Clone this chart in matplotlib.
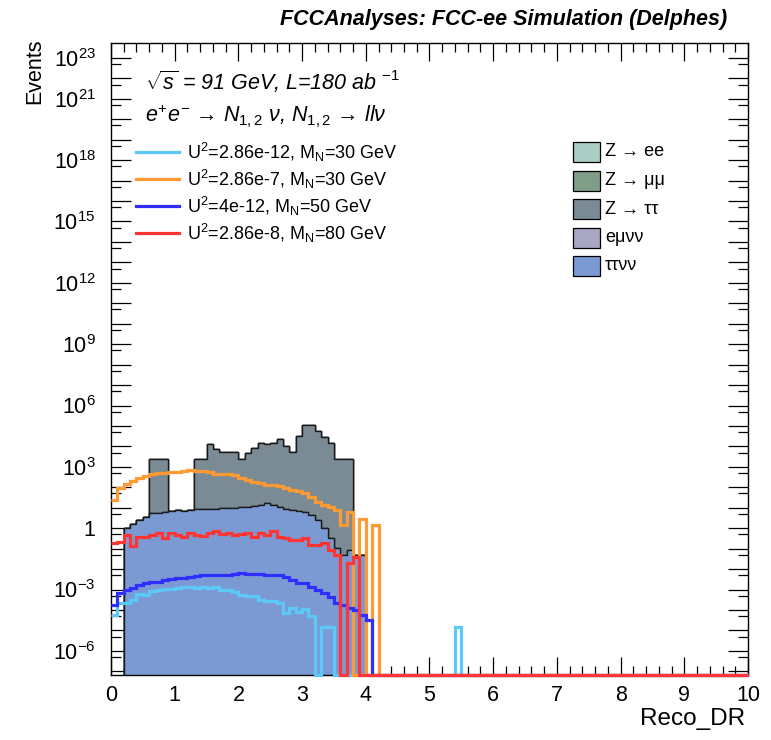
import numpy as np
import matplotlib
matplotlib.use("Agg")
import matplotlib.pyplot as plt
from matplotlib.lines import Line2D
from matplotlib.patches import Rectangle
from matplotlib.ticker import FixedLocator, FuncFormatter, MultipleLocator, NullFormatter

plt.rcParams['font.family'] = ['Liberation Sans', 'DejaVu Sans']
plt.rcParams['mathtext.fontset'] = 'custom'
plt.rcParams['mathtext.rm'] = 'Liberation Sans'
plt.rcParams['mathtext.it'] = 'Liberation Sans:italic'
plt.rcParams['mathtext.bf'] = 'Liberation Sans:bold'

# Reco_DR binning: 100 bins of 0.1
edges = np.linspace(0, 10, 101)

# background yields per bin (first bins, rest are empty)
tautaununu = [0, 0, 1.0, 1.6, 2.6, 3.7, 5.4, 5.4, 6.0, 7.2,
              7.9, 7.2, 7.9, 8.5, 8.5, 8.5, 8.5, 9.5, 9.5, 9.5,
              11.5, 11.5, 12.6, 14.0, 16.6, 14.0, 11.5, 8.9, 7.9, 6.6,
              6.0, 4.5, 2.5, 1.0, 0.32, 0.105, 0.049, 0.085, 0.049, 0.049]
z_tautau = [0, 0, 0, 0, 0, 0, 2450, 2450, 2450, 0,
            0, 0, 0, 2450, 2450, 12900, 7600, 5200, 5200, 5200,
            2450, 5000, 8300, 14500, 12900, 14800, 21900, 10500, 5200, 31600,
            115000, 115000, 53700, 30200, 14500, 2450, 2450, 2450]
z_ee = []
z_mumu = []
emununu = []

# signal yields per bin
sig_u2_286e12_m30 = [5.8e-5, 2.3e-4, 2.3e-4, 3.2e-4, 6.3e-4, 5.5e-4, 8.9e-4, 1.0e-3, 1.1e-3, 1.1e-3,
                     1.25e-3, 1.3e-3, 1.4e-3, 1.25e-3, 1.4e-3, 1.15e-3, 1.4e-3, 1.0e-3, 1.0e-3, 7.9e-4,
                     5.5e-4, 4.6e-4, 4.6e-4, 3.1e-4, 2.6e-4, 2.6e-4, 2.3e-4, 7.4e-5, 1.2e-4, 7.9e-5,
                     1.1e-4, 5.0e-5, 0, 1.4e-5, 1.4e-5, 0, 0, 0, 0, 0,
                     0, 0, 0, 0, 0, 0, 0, 0, 0, 0,
                     0, 0, 0, 0, 1.4e-5]
sig_u2_286e7_m30 = [25, 91, 148, 214, 282, 339, 437, 525, 525, 537,
                    589, 617, 708, 631, 631, 562, 457, 457, 457, 380,
                    282, 229, 191, 158, 132, 132, 110, 91, 71, 63,
                    50, 35, 20, 14, 11.5, 7.9, 1.45, 6.5, 0, 2.9,
                    0, 1.45]
sig_u2_4e12_m50 = [1.8e-4, 6.6e-4, 1.0e-3, 1.15e-3, 1.66e-3, 2.0e-3, 2.45e-3, 2.45e-3, 2.95e-3, 3.2e-3,
                   3.5e-3, 3.5e-3, 4.0e-3, 4.7e-3, 5.2e-3, 5.2e-3, 5.2e-3, 5.2e-3, 5.2e-3, 5.6e-3,
                   6.3e-3, 5.6e-3, 5.6e-3, 5.6e-3, 4.9e-3, 4.9e-3, 4.9e-3, 4.0e-3, 2.8e-3, 2.0e-3,
                   2.0e-3, 1.4e-3, 9.5e-4, 6.6e-4, 4.5e-4, 2.1e-4, 1.8e-4, 1.2e-4, 1.0e-4, 5.8e-5,
                   3.2e-5]
sig_u2_286e8_m80 = [0.19, 0.22, 0.47, 0.135, 0.39, 0.39, 0.47, 0.56, 0.32, 0.56,
                    0.47, 0.39, 0.56, 0.47, 0.42, 0.56, 0.69, 0.52, 0.56, 0.47,
                    0.52, 0.56, 0.39, 0.56, 0.47, 0.74, 0.39, 0.32, 0.27, 0.27,
                    0.35, 0.15, 0.15, 0.19, 0.087, 0.049, 0, 0.0195, 0.037]

sig_labels = [r'U$^{2}$=2.86e-12, M$_{\mathrm{N}}$=30 GeV',
              r'U$^{2}$=2.86e-7, M$_{\mathrm{N}}$=30 GeV',
              r'U$^{2}$=4e-12, M$_{\mathrm{N}}$=50 GeV',
              r'U$^{2}$=2.86e-8, M$_{\mathrm{N}}$=80 GeV']
sig_colors = ['#5bc8f7', '#ff9933', '#2e2eff', '#ff3535']

bkg_labels = ['Z → ee', 'Z → μμ', 'Z → ττ', 'eμνν', 'ττνν']
bkg_colors = ['#a9cfc4', '#7f9e88', '#7a8b95', '#aaa7c4', '#7b9ad4']

YMIN, YMAX = 10**-7.18, 10**23.73
W, H = 771, 740


def full(v):
    out = np.zeros(len(edges) - 1)
    out[:len(v)] = v
    return out


fig = plt.figure(figsize=(W / 100, H / 100), dpi=100)
ax = fig.add_axes([111 / W, 1 - 675 / H, 637 / W, 632 / H])

# stacked backgrounds: draw the cumulative sums from the top down
stack = [full(tautaununu), full(emununu), full(z_tautau), full(z_mumu), full(z_ee)]
cum = np.cumsum(stack, axis=0)
stack_colors = [bkg_colors[4], bkg_colors[3], bkg_colors[2], bkg_colors[1], bkg_colors[0]]
floor = YMIN * 1e-3
for vals, col in reversed(list(zip(cum, stack_colors))):
    if not vals.any():
        continue
    ax.stairs(np.where(vals > 0, vals, floor), edges, baseline=floor, fill=True,
              facecolor=col, edgecolor='#1a1a1a', linewidth=1.0, zorder=2)

# signal lines, empty bins drawn along the bottom of the frame
for vals, col in zip([sig_u2_286e12_m30, sig_u2_286e7_m30, sig_u2_4e12_m50, sig_u2_286e8_m80],
                     sig_colors):
    v = full(vals)
    ax.stairs(np.where(v > 0, v, YMIN), edges, baseline=None, color=col,
              linewidth=2.3, zorder=4, clip_on=False)

ax.set_xlim(0, 10)
ax.set_yscale('log')
ax.set_ylim(YMIN, YMAX)

ax.xaxis.set_major_locator(MultipleLocator(1))
ax.xaxis.set_minor_locator(MultipleLocator(0.2))
ax.yaxis.set_major_locator(FixedLocator(10.0 ** np.arange(-7, 24)))
ax.yaxis.set_minor_locator(FixedLocator(5 * 10.0 ** np.arange(-8, 23)))
ax.yaxis.set_minor_formatter(NullFormatter())

shown = list(range(-6, 22, 3)) + [23]


def ylab(val, pos):
    e = int(round(np.log10(val)))
    if e not in shown:
        return ''
    if e == 0:
        return '1'
    return r'$\mathregular{10^{%d}}$' % e


ax.yaxis.set_major_formatter(FuncFormatter(ylab))
ax.tick_params(which='both', direction='in', top=True, right=True, labelsize=15.5, width=0.9)
ax.tick_params(axis='y', which='major', length=14.5, pad=11)
ax.tick_params(axis='y', which='minor', length=7.2)
ax.tick_params(axis='x', which='major', length=13, pad=7)
ax.tick_params(axis='x', which='minor', length=6.5)
for s in ax.spines.values():
    s.set_linewidth(1.0)

fig.text(727 / W, 1 - 25 / H, 'FCCAnalyses: FCC-ee Simulation (Delphes)', ha='right',
         va='baseline', fontsize=15.5, fontweight='bold', fontstyle='italic')
fig.text(145 / W, 1 - 90 / H, r'$\sqrt{s}$ = 91 GeV, L=180 ab $^{\mathit{-1}}$',
         ha='left', va='baseline', fontsize=15.5, fontstyle='italic')
fig.text(145 / W, 1 - 122 / H, r'$e^{+}e^{-}$ → $N_{1,2}$ ν, $N_{1,2}$ → $ll$ν',
         ha='left', va='baseline', fontsize=15.5, fontstyle='italic')

# signal legend
for i, (lab, col) in enumerate(zip(sig_labels, sig_colors)):
    yc = 1 - (152 + 27 * i) / H
    fig.add_artist(Line2D([136 / W, 179 / W], [yc, yc], color=col, linewidth=2.3))
    fig.text(187 / W, yc, lab, ha='left', va='center', fontsize=13)

# background legend
for i, (lab, col) in enumerate(zip(bkg_labels, bkg_colors)):
    ytop = 142 + 28.5 * i
    fig.add_artist(Rectangle((573 / W, 1 - (ytop + 20) / H), 27 / W, 20 / H,
                             facecolor=col, edgecolor='black', linewidth=0.9,
                             transform=fig.transFigure))
    fig.text(605 / W, 1 - (ytop + 10) / H, lab, ha='left', va='center', fontsize=13)

fig.text(35 / W, 1 - 39 / H, 'Events', rotation=90, ha='center', va='top', fontsize=15.5,
         family=['Liberation Sans Narrow', 'Liberation Sans'])
fig.text(745 / W, 1 - 725 / H, 'Reco_DR', ha='right', va='baseline', fontsize=17.5)

fig.savefig('out.png', dpi=100)
